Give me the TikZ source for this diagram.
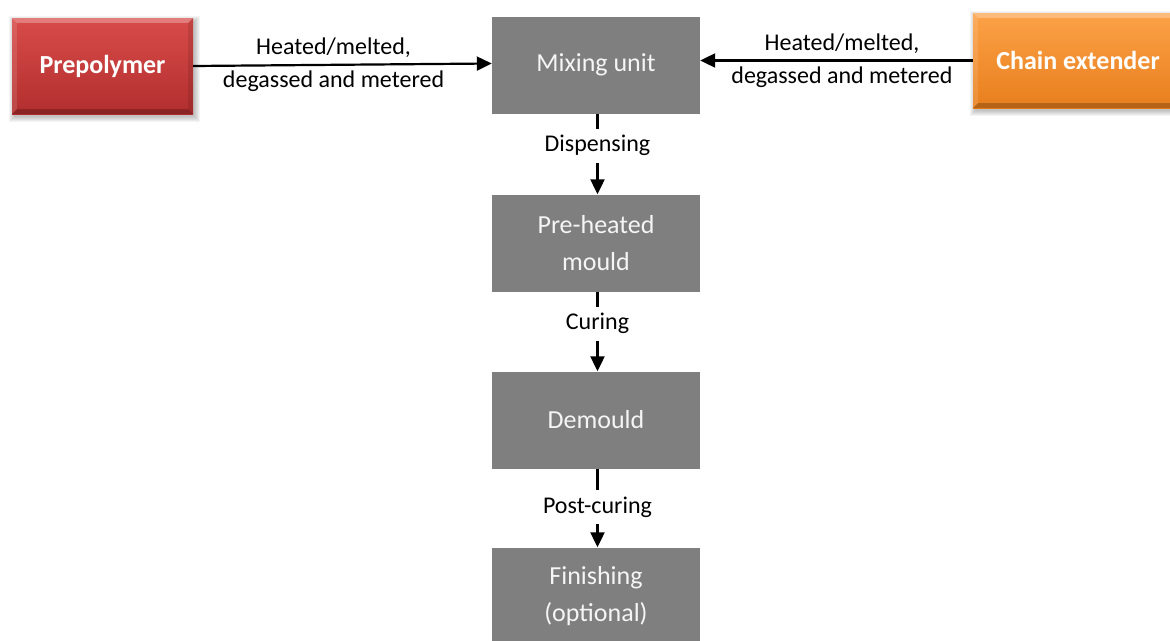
\documentclass[tikz,border=0pt]{standalone}
\usepackage{fontspec}
\setmainfont{Carlito}
\usetikzlibrary{arrows.meta,calc}
\pgfdeclarelayer{bg}
\pgfsetlayers{bg,main}
\definecolor{boxgray}{RGB}{127,127,127}
\definecolor{redtop}{RGB}{216,76,74}
\definecolor{redbot}{RGB}{178,46,46}
\definecolor{orgtop}{RGB}{252,162,72}
\definecolor{orgbot}{RGB}{232,126,28}
\definecolor{txtw}{RGB}{245,245,245}
\tikzset{
  graybox/.style={fill=boxgray, text=txtw, minimum width=208pt, minimum height=97pt,
    inner sep=0pt, align=center, font=\fontsize{26}{37}\selectfont},
  colbox/.style={minimum height=96pt, inner sep=0pt, text=white,
    font=\fontsize{26}{32}\selectfont\bfseries},
  arr/.style={line width=2.2pt, -{Triangle[length=15pt,width=14pt]}},
  vlbl/.style={fill=white, font=\fontsize{24}{33}\selectfont, text height=17pt,
    text depth=5pt, inner ysep=6pt, inner xsep=3pt},
  hlbl/.style={font=\fontsize{24}{33}\selectfont, align=center, inner sep=0pt},
}
\newcommand\mybevel[1]{%
  \fill[white,opacity=.28] (#1.north west) -- (#1.north east) -- ([shift={(-5pt,-5pt)}]#1.north east) -- ([shift={(5pt,-5pt)}]#1.north west) -- cycle;
  \fill[white,opacity=.12] (#1.north west) -- ([shift={(5pt,-5pt)}]#1.north west) -- ([shift={(5pt,5pt)}]#1.south west) -- (#1.south west) -- cycle;
  \fill[black,opacity=.10] (#1.north east) -- ([shift={(-5pt,-5pt)}]#1.north east) -- ([shift={(-5pt,5pt)}]#1.south east) -- (#1.south east) -- cycle;
  \fill[black,opacity=.22] (#1.south west) -- ([shift={(5pt,5pt)}]#1.south west) -- ([shift={(-5pt,5pt)}]#1.south east) -- (#1.south east) -- cycle;
}
\newcommand\myshadow[1]{%
  \begin{pgfonlayer}{bg}
  \foreach \e in {0,...,5}{%
    \fill[black,opacity=.045] ([shift={(2pt-\e*1pt,-3pt+\e*1pt)}]#1.north west) rectangle ([shift={(2pt+\e*1pt,-3pt-\e*1pt)}]#1.south east);
  }
  \end{pgfonlayer}
}
\begin{document}
\begin{tikzpicture}[x=1pt,y=-1pt]
\useasboundingbox (0,0) rectangle (1170,640);
\clip (0,0) rectangle (1170,640);

% process boxes
\node[graybox] (mix) at (596,65) {Mixing unit};
\node[graybox] (pre) at (596,243) {Pre-heated\\mould};
\node[graybox] (dem) at (596,420) {Demould};
\node[graybox] (fin) at (596,596) {Finishing\\(optional)};

% raw material boxes
\node[colbox, minimum width=181pt, top color=redtop, bottom color=redbot] (prep) at (102.5,66) {Prepolymer};
\mybevel{prep}
\myshadow{prep}
\node[colbox, minimum width=210pt, minimum height=95pt, top color=orgtop, bottom color=orgbot] (chain) at (1078,60.5) {Chain extender};
\mybevel{chain}
\myshadow{chain}

% connectors
\draw[arr] (prep.east) -- node[hlbl,pos=.47]{Heated/melted,\\degassed and metered} ([yshift=1.5pt]mix.west);
\draw[arr] (chain.west) -- node[hlbl,pos=.48]{Heated/melted,\\degassed and metered} (chain.west -| mix.east);
\draw[arr] ([xshift=1.5pt]mix.south) -- node[vlbl,pos=.40]{Dispensing} ([xshift=1.5pt]pre.north);
\draw[arr] ([xshift=1.5pt]pre.south) -- node[vlbl,pos=.40]{Curing} ([xshift=1.5pt]dem.north);
\draw[arr] ([xshift=1.5pt]dem.south) -- node[vlbl,pos=.49]{Post-curing} ([xshift=1.5pt]fin.north);
\end{tikzpicture}
\end{document}
